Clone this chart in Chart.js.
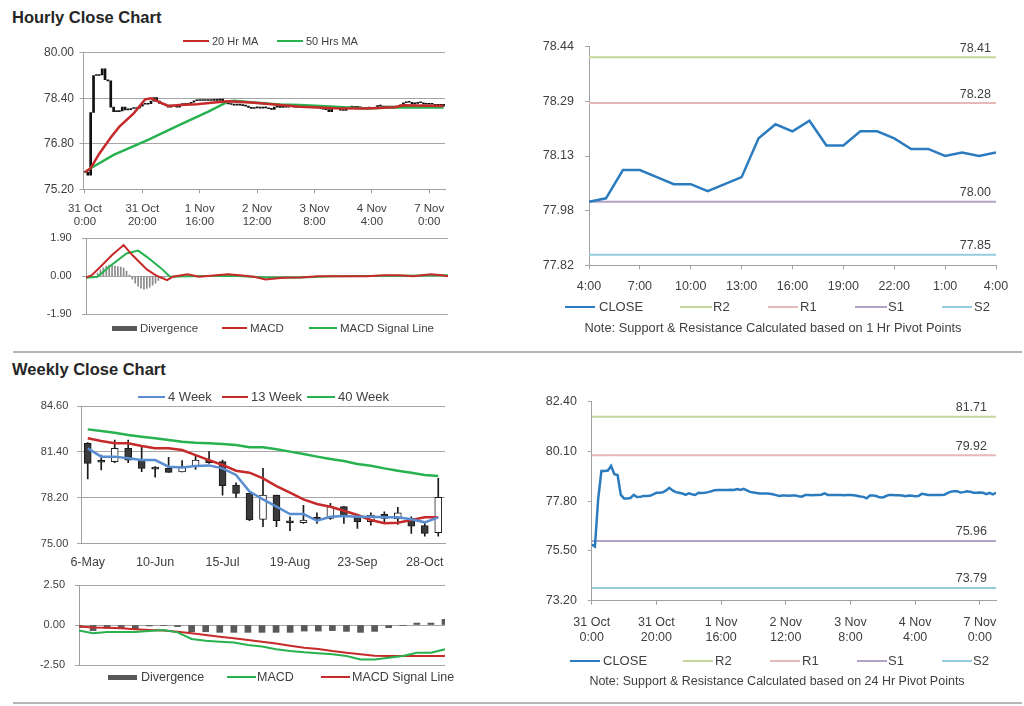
<!DOCTYPE html>
<html>
<head>
<meta charset="utf-8">
<title>Hourly / Weekly Close Charts</title>
<script src="https://cdn.jsdelivr.net/npm/chart.js@4.4.0/dist/chart.umd.min.js"></script>
<style>
  body { margin: 0; background: #fff; font-family: "Liberation Sans", Arial, sans-serif; color: #404040; }
  #page { position: relative; width: 1024px; height: 706px; overflow: hidden; }
  .title { position: absolute; left: 12px; font-weight: bold; font-size: 16.5px; line-height: 18px; color: #262626; }
  .rule { position: absolute; left: 13px; width: 1009px; height: 2px; background: #b5b5b5; }
  .leg { position: absolute; white-space: nowrap; line-height: 14px; color: #404040; }
  .legline { position: absolute; }
  .note { position: absolute; white-space: nowrap; line-height: 14px; color: #404040; transform: translateX(-50%); }
</style>
</head>
<body>
<div id="page">
  <div class="title" style="top:8px">Hourly Close Chart</div>
  <div class="rule" style="top:351px"></div>
  <div class="title" style="top:360px">Weekly Close Chart</div>
  <div class="rule" style="top:702px"></div>
</div>
<script>
// ---------- hourly data: one close per trading hour, 31 Oct 0:00 onwards ----------
const hourClose = [
  75.80, 75.70, 77.90, 79.20, 79.20, 79.22, 79.43, 79.05, 79.01, 78.09,
  77.93, 77.93, 77.95, 78.09, 77.99, 78.00, 78.04, 78.04, 78.05, 78.12,
  78.19, 78.19, 78.21, 78.30, 78.42, 78.30, 78.22, 78.19, 78.16, 78.09,
  78.16, 78.12, 78.09, 78.19, 78.18, 78.19, 78.22, 78.26, 78.31, 78.32,
  78.32, 78.32, 78.32, 78.33, 78.32, 78.36, 78.32, 78.37, 78.30, 78.23,
  78.20, 78.18, 78.16, 78.16, 78.16, 78.14, 78.12, 78.08, 78.04, 78.06,
  78.06, 78.05, 78.06, 78.06, 78.03, 78.01, 78.09, 78.09, 78.08, 78.09,
  78.09, 78.10, 78.16, 78.09, 78.09, 78.09, 78.09, 78.09, 78.08, 78.09,
  78.09, 78.07, 78.05, 78.02, 78.00, 77.93, 78.06, 78.06, 78.04, 77.98,
  77.97, 78.04, 78.09, 78.09, 78.08, 78.08, 78.06, 78.03, 78.06, 78.05,
  78.03, 78.04, 78.14, 78.12, 78.09, 78.09, 78.09, 78.09, 78.09, 78.10,
  78.17, 78.24, 78.26, 78.26, 78.20, 78.22, 78.26, 78.24, 78.19, 78.19,
  78.20, 78.19, 78.13, 78.19, 78.12, 78.19
];
const hourTickLabels = [
  ['31 Oct', '0:00'], ['31 Oct', '20:00'], ['1 Nov', '16:00'], ['2 Nov', '12:00'],
  ['3 Nov', '8:00'], ['4 Nov', '4:00'], ['7 Nov', '0:00']
];
const hourTickStep = 20;

// moving averages (vertices, x = hour index)
const ma20Hours  = [0, 2, 5, 9, 12, 17, 21, 23, 25, 29, 33, 39, 45, 50, 53, 59, 68, 75, 87, 98, 108, 111, 125];
const ma20Values = [75.80, 75.94, 76.45, 77.02, 77.40, 77.87, 78.36, 78.40, 78.31, 78.13, 78.16, 78.19,
                    78.25, 78.29, 78.28, 78.24, 78.16, 78.10, 78.05, 78.04, 78.08, 78.15, 78.13];
const ma50Hours  = [0, 2, 10, 22, 33, 43, 50, 52, 60, 68, 75, 87, 98, 108, 125];
const ma50Values = [75.80, 75.94, 76.41, 76.94, 77.46, 77.93, 78.29, 78.31, 78.24, 78.18, 78.16, 78.10,
                    78.04, 78.08, 78.07];
const hourTicks = [75.20, 76.80, 78.40, 80.00];

// hourly MACD
const macdHours    = [0, 2, 5, 9, 13, 16, 21, 24, 28, 30, 35, 39, 49, 53, 58, 62, 68, 74, 80, 97, 103, 108, 113, 119, 123, 125];
const macdValues   = [-0.07, 0.05, 0.47, 1.06, 1.56, 1.06, 0.34, 0.05, -0.20, -0.03, 0.10, -0.03, 0.10,
                      0.05, -0.03, -0.17, -0.08, -0.07, 0.00, 0.00, 0.05, 0.05, 0.00, 0.10, 0.05, 0.00];
const signalHours  = [0, 4, 8, 14, 18, 21, 26, 29, 35, 51, 62, 74, 85, 108, 125];
const signalValues = [-0.08, -0.03, 0.47, 1.14, 1.28, 0.97, 0.39, -0.03, 0.00, 0.02, -0.07, -0.07, 0.00, 0.02, 0.05];
const divHours  = [4, 5, 6, 7, 8, 9, 10, 11, 12, 13, 14, 15, 16, 17, 18, 19, 20, 21, 22, 23, 24, 25, 26, 27];
const divValues = [0.15, 0.30, 0.42, 0.50, 0.55, 0.55, 0.50, 0.48, 0.45, 0.40, 0.25, 0.05,
                   -0.15, -0.35, -0.50, -0.60, -0.65, -0.62, -0.55, -0.45, -0.35, -0.22, -0.12, -0.05];
const hourMacdTicks = [-1.90, 0.00, 1.90];

// last 24 hours, 1 hr pivots
const dayHourLabels = ['4:00', '7:00', '10:00', '13:00', '16:00', '19:00', '22:00', '1:00', '4:00'];
const dayHourStep = 3;
const dayClose = [78.00, 78.01, 78.09, 78.09, 78.07, 78.05, 78.05, 78.03, 78.05, 78.07, 78.18, 78.22, 78.20,
                  78.23, 78.16, 78.16, 78.20, 78.20, 78.18, 78.15, 78.15, 78.13, 78.14, 78.13, 78.14];
const dayTicks = [77.82, 77.98, 78.13, 78.29, 78.44];
const pivotNames = ['R2', 'R1', 'S1', 'S2'];
const hourPivotLevels = [78.41, 78.28, 78.00, 77.85];
const dayPivotLevels = [81.71, 79.92, 75.96, 73.79];
const pivot24Ticks = [73.20, 75.50, 77.80, 80.10, 82.40];

// ---------- weekly data ----------
const weekLabels = ['6-May', '13-May', '20-May', '27-May', '3-Jun', '10-Jun', '17-Jun', '24-Jun', '1-Jul',
  '8-Jul', '15-Jul', '22-Jul', '29-Jul', '5-Aug', '12-Aug', '19-Aug', '26-Aug', '2-Sep', '9-Sep', '16-Sep',
  '23-Sep', '30-Sep', '7-Oct', '14-Oct', '21-Oct', '28-Oct', '4-Nov'];
const wkOpen  = [82.00, 80.75, 80.72, 81.65, 80.83, 80.26, 80.25, 80.00, 80.37, 80.83, 80.72, 79.09, 78.51, 76.70,
                 78.39, 76.60, 76.46, 76.84, 76.77, 77.58, 76.84, 76.53, 77.05, 76.72, 76.77, 76.26, 75.77];
const wkHigh  = [82.05, 81.18, 82.23, 82.23, 81.72, 80.37, 81.02, 80.79, 81.18, 81.42, 80.83, 79.25, 78.51, 80.25,
                 78.39, 76.88, 77.67, 77.16, 77.81, 77.58, 76.88, 77.16, 77.23, 77.53, 76.88, 76.42, 79.56];
const wkLow   = [79.51, 80.14, 80.65, 80.65, 80.02, 79.63, 79.97, 80.00, 80.18, 80.60, 78.39, 78.23, 76.60, 76.19,
                 76.19, 75.91, 76.42, 76.42, 76.70, 76.42, 76.07, 76.30, 76.46, 76.35, 75.72, 75.53, 75.53];
const wkClose = [80.60, 80.68, 81.65, 80.83, 80.25, 80.20, 79.97, 80.37, 80.83, 80.65, 79.04, 78.51, 76.65, 78.39,
                 76.60, 76.46, 76.65, 76.70, 77.58, 76.88, 76.53, 77.00, 76.77, 77.16, 76.23, 75.72, 78.23];
const ma4w  = [81.65, 81.07, 81.07, 80.95, 80.83, 80.83, 80.37, 80.32, 80.41, 80.46, 80.25, 79.79, 78.63, 78.09,
               77.58, 77.07, 77.07, 76.60, 76.88, 76.93, 76.88, 76.88, 76.84, 76.84, 76.70, 76.49, 76.84];
const ma13w = [82.35, 82.16, 82.00, 82.00, 81.81, 81.65, 81.65, 81.53, 81.18, 80.83, 80.49, 80.09, 79.95, 79.56,
               79.02, 78.56, 78.09, 77.77, 77.58, 77.30, 77.00, 76.65, 76.42, 76.46, 76.65, 76.84, 76.84];
const ma40w = [82.97, 82.86, 82.74, 82.58, 82.46, 82.35, 82.23, 82.11, 82.04, 82.00, 81.95, 81.88, 81.72, 81.72,
               81.58, 81.42, 81.25, 81.07, 80.90, 80.76, 80.56, 80.44, 80.25, 80.09, 79.95, 79.79, 79.72];
const weekTicks = [75.00, 78.20, 81.40, 84.60];
const weekLabelStep = 5;

const wkDiv    = [-0.15, -0.35, -0.20, -0.20, -0.27, -0.06, -0.04, -0.10, -0.42, -0.42, -0.46, -0.46, -0.46, -0.46,
                  -0.46, -0.46, -0.38, -0.38, -0.35, -0.40, -0.46, -0.40, -0.17, -0.02, 0.12, 0.12, 0.35];
const wkMacd   = [-0.35, -0.52, -0.44, -0.44, -0.44, -0.38, -0.31, -0.46, -0.87, -0.98, -1.04, -1.10, -1.25, -1.35,
                  -1.52, -1.63, -1.71, -1.77, -1.83, -1.94, -2.15, -2.15, -2.04, -1.94, -1.73, -1.73, -1.52];
const wkSignal = [-0.10, -0.15, -0.17, -0.21, -0.27, -0.31, -0.35, -0.42, -0.52, -0.62, -0.73, -0.83, -0.94, -1.04,
                  -1.15, -1.29, -1.42, -1.50, -1.63, -1.73, -1.83, -1.92, -1.94, -1.94, -1.94, -1.94, -1.94];
const weekMacdTicks = [-2.50, 0.00, 2.50];

// ---------- styling ----------
const RED = '#c62a2a', GREEN = '#27b24f', BLUE = '#2b7bbf', LIGHTBLUE = '#5a8dd0';
const DIVGRAY = '#595959', TEXT = '#404040', GRID = '#a6a6a6', AXIS = '#a0a0a0';
const pivotColors = ['#c3d69b', '#e6b9b8', '#b3a2c7', '#93cddd'];

Chart.defaults.font.family = '"Liberation Sans", Arial, sans-serif';
Chart.defaults.font.size = 11;
Chart.defaults.color = TEXT;
Chart.defaults.animation = false;
Chart.defaults.plugins.legend.display = false;
Chart.defaults.plugins.tooltip.enabled = false;

const page = document.getElementById('page');

function makeCanvas(left, top, w, h) {
  const c = document.createElement('canvas');
  c.width = w; c.height = h;
  c.style.cssText = 'position:absolute;left:' + left + 'px;top:' + top + 'px;';
  page.appendChild(c);
  return c.getContext('2d');
}

// evenly spaced ticks from first to last entry, labelled from the list
function yAxis(ticks, width, pad, size, grid) {
  const n = ticks.length;
  return {
    min: ticks[0], max: ticks[n - 1],
    afterBuildTicks: s => { s.ticks = ticks.map((t, i) => ({ value: ticks[0] + (ticks[n - 1] - ticks[0]) * i / (n - 1) })); },
    afterFit: s => { s.width = width; },
    ticks: { callback: (v, i) => ticks[i].toFixed(2), padding: pad, font: { size: size } },
    grid: { color: GRID, drawOnChartArea: grid, tickLength: 4 },
    border: { color: AXIS }
  };
}

function xLinear(max, labels, step, height, pad, size, lh) {
  return {
    type: 'linear', min: 0, max: max, offset: false,
    afterBuildTicks: s => { s.ticks = labels.map((l, i) => ({ value: i * step })); },
    afterFit: s => { s.height = height; },
    ticks: { callback: (v, i) => labels[i], padding: pad, maxRotation: 0, autoSkip: false,
             font: { size: size, lineHeight: lh } },
    grid: { drawOnChartArea: false, tickLength: 4, color: AXIS, offset: false },
    border: { color: AXIS }
  };
}

function toPoints(xs, ys) { return xs.map((x, i) => ({ x: x, y: ys[i] })); }

function line(label, data, color, width) {
  return { type: 'line', label: label, data: data, borderColor: color, backgroundColor: color,
           borderWidth: width, pointRadius: 0, tension: 0, order: 0 };
}

function addLegend(cy, size, items) {
  items.forEach(it => {
    const ln = document.createElement('div');
    ln.className = 'legline';
    ln.style.cssText = 'left:' + it.x + 'px;top:' + (cy - it.h / 2) + 'px;width:' + it.w + 'px;height:' + it.h + 'px;background:' + it.color;
    page.appendChild(ln);
    const t = document.createElement('div');
    t.className = 'leg';
    t.style.cssText = 'left:' + it.tx + 'px;top:' + (cy - 7) + 'px;font-size:' + size + 'px';
    t.textContent = it.label;
    page.appendChild(t);
  });
}

function addNote(cx, cy, size, text) {
  const n = document.createElement('div');
  n.className = 'note';
  n.style.cssText = 'left:' + cx + 'px;top:' + (cy - 7) + 'px;font-size:' + size + 'px';
  n.textContent = text;
  page.appendChild(n);
}

// value written above the right end of each pivot line
const pivotLabels = {
  id: 'pivotLabels',
  afterDatasetsDraw(chart, args, opts) {
    const ctx = chart.ctx;
    ctx.save();
    ctx.font = '12.5px "Liberation Sans", Arial, sans-serif';
    ctx.fillStyle = TEXT;
    ctx.textAlign = 'right';
    ctx.textBaseline = 'middle';
    chart.data.datasets.forEach((ds, i) => {
      if (ds.pivot === undefined) return;
      const pts = chart.getDatasetMeta(i).data;
      const p = pts[pts.length - 1];
      ctx.fillText(ds.pivot.toFixed(2), p.x - opts.dx, p.y - 9);
    });
    ctx.restore();
  }
};

function pivotSets(levels, xMax) {
  return pivotNames.map((name, i) => ({
    type: 'line', label: name, pivot: levels[i],
    data: [{ x: 0, y: levels[i] }, { x: xMax, y: levels[i] }],
    borderColor: pivotColors[i], borderWidth: 2, pointRadius: 0, order: 1
  }));
}

// ---------- A: hourly candles + MAs ----------
new Chart(makeCanvas(0, 40, 460, 195), {
  type: 'bar',
  data: {
    datasets: [
      line('20 Hr MA', toPoints(ma20Hours, ma20Values), RED, 2.5),
      line('50 Hrs MA', toPoints(ma50Hours, ma50Values), GREEN, 2.5),
      { label: 'Hourly', order: 1,
        data: hourClose.map((c, i) => ({ x: i, y: [i ? hourClose[i - 1] : c, c] })),
        backgroundColor: '#111', borderWidth: 0, barThickness: 2, minBarLength: 1 }
    ]
  },
  options: {
    responsive: false,
    layout: { padding: { top: 12.7, right: 15, bottom: 3.7, left: 0 } },
    scales: {
      x: Object.assign(xLinear(125.5, hourTickLabels, hourTickStep, 42, 9.4, 11.5, 1.1), { min: -0.5 }),
      y: yAxis(hourTicks, 83.5, 5.5, 12, true)
    }
  }
});
addLegend(41, 11, [
  { x: 183, w: 26, h: 2, color: RED, tx: 212, label: '20 Hr MA' },
  { x: 277, w: 26, h: 2, color: GREEN, tx: 306, label: '50 Hrs MA' }
]);

// ---------- B: hourly MACD ----------
new Chart(makeCanvas(0, 220, 460, 112), {
  type: 'bar',
  data: {
    datasets: [
      line('MACD', toPoints(macdHours, macdValues), RED, 2),
      line('MACD Signal Line', toPoints(signalHours, signalValues), GREEN, 2),
      { label: 'Divergence', order: 1, data: toPoints(divHours, divValues),
        backgroundColor: '#8a8a8a', barThickness: 1 }
    ]
  },
  options: {
    responsive: false,
    layout: { padding: { top: 18.3, right: 12, bottom: 18, left: 0 } },
    scales: {
      x: { type: 'linear', min: 0, max: 125, display: false, offset: false },
      y: yAxis(hourMacdTicks, 86, 10.3, 11, true)
    }
  }
});
addLegend(328, 11.5, [
  { x: 112, w: 25, h: 5, color: DIVGRAY, tx: 140, label: 'Divergence' },
  { x: 222, w: 25, h: 2, color: RED, tx: 250, label: 'MACD' },
  { x: 309, w: 28, h: 2, color: GREEN, tx: 340, label: 'MACD Signal Line' }
]);

// ---------- C: last 24 hours with 1 hr pivots ----------
new Chart(makeCanvas(520, 28, 504, 272), {
  type: 'line',
  data: {
    datasets: [line('CLOSE', dayClose.map((v, i) => ({ x: i, y: v })), BLUE, 2.5)]
      .concat(pivotSets(hourPivotLevels, dayClose.length - 1))
  },
  options: {
    responsive: false,
    layout: { padding: { top: 18.7, right: 28, bottom: 2.7, left: 0 } },
    plugins: { pivotLabels: { dx: 5 } },
    scales: {
      x: xLinear(dayClose.length - 1, dayHourLabels, dayHourStep, 32, 10.2, 12.5, 1.2),
      y: yAxis(dayTicks, 69, 11, 12.5, false)
    }
  },
  plugins: [pivotLabels]
});
addLegend(307, 13, [
  { x: 565, w: 30, h: 2.5, color: BLUE, tx: 599, label: 'CLOSE' },
  { x: 680, w: 32, h: 1.5, color: pivotColors[0], tx: 713, label: 'R2' },
  { x: 768, w: 30, h: 1.5, color: pivotColors[1], tx: 800, label: 'R1' },
  { x: 855, w: 32, h: 1.5, color: pivotColors[2], tx: 888, label: 'S1' },
  { x: 942, w: 30, h: 1.5, color: pivotColors[3], tx: 974, label: 'S2' }
]);
addNote(773, 328, 12.8, 'Note: Support & Resistance Calculated based on 1 Hr Pivot Points');

// ---------- D: weekly candles + MAs ----------
new Chart(makeCanvas(0, 385, 460, 192), {
  type: 'bar',
  data: {
    labels: weekLabels,
    datasets: [
      line('4 Week', ma4w, LIGHTBLUE, 2.5),
      line('13 Week', ma13w, RED, 2.5),
      line('40 Week', ma40w, GREEN, 2.5),
      { label: 'Body', order: 1, grouped: false, barThickness: 7, borderSkipped: false,
        data: wkOpen.map((o, i) => [o, wkClose[i]]),
        backgroundColor: wkOpen.map((o, i) => wkClose[i] >= o ? '#ffffff' : '#3a3a3a'),
        borderColor: '#1a1a1a', borderWidth: 1, minBarLength: 2 },
      { label: 'Range', order: 2, grouped: false, barThickness: 1,
        data: wkLow.map((l, i) => [l, wkHigh[i]]),
        backgroundColor: '#1a1a1a' }
    ]
  },
  options: {
    responsive: false,
    layout: { padding: { top: 21, right: 15, bottom: 3.3, left: 0 } },
    scales: {
      x: {
        afterFit: s => { s.height = 30; },
        ticks: { autoSkip: false, maxRotation: 0, padding: 11, font: { size: 12.5 },
                 callback: (v, i) => i % weekLabelStep === 0 ? weekLabels[i] : '' },
        grid: { drawOnChartArea: false, drawTicks: false },
        border: { color: AXIS }
      },
      y: yAxis(weekTicks, 81, 8.7, 11, true)
    }
  }
});
addLegend(397, 13, [
  { x: 138, w: 27, h: 2, color: LIGHTBLUE, tx: 168, label: '4 Week' },
  { x: 222, w: 26, h: 2, color: RED, tx: 251, label: '13 Week' },
  { x: 307, w: 28, h: 2, color: GREEN, tx: 338, label: '40 Week' }
]);

// ---------- E: weekly MACD ----------
new Chart(makeCanvas(0, 567, 460, 116), {
  type: 'bar',
  data: {
    labels: weekLabels,
    datasets: [
      line('MACD', wkMacd, GREEN, 2),
      line('MACD Signal Line', wkSignal, RED, 2),
      { label: 'Divergence', order: 1, data: wkDiv, backgroundColor: DIVGRAY, barThickness: 6 }
    ]
  },
  options: {
    responsive: false,
    layout: { padding: { top: 18, right: 15, bottom: 18, left: 0 } },
    scales: {
      x: { display: false, offset: false, grid: { offset: false } },
      y: yAxis(weekMacdTicks, 79, 10, 11, true)
    }
  }
});
addLegend(677, 12.5, [
  { x: 108, w: 29, h: 5, color: DIVGRAY, tx: 141, label: 'Divergence' },
  { x: 227, w: 29, h: 2, color: GREEN, tx: 257, label: 'MACD' },
  { x: 321, w: 29, h: 2, color: RED, tx: 352, label: 'MACD Signal Line' }
]);

// ---------- F: hourly close with 24 hr pivots ----------
new Chart(makeCanvas(520, 383, 504, 272), {
  type: 'line',
  data: {
    datasets: [line('CLOSE', hourClose.map((v, i) => ({ x: i, y: v })), BLUE, 2.5)]
      .concat(pivotSets(dayPivotLevels, hourClose.length - 1))
  },
  options: {
    responsive: false,
    layout: { padding: { top: 18.7, right: 28, bottom: 9.3, left: 0 } },
    plugins: { pivotLabels: { dx: 9 } },
    scales: {
      x: xLinear(hourClose.length - 1, hourTickLabels, hourTickStep, 45, 10.6, 12.5, 1.18),
      y: yAxis(pivot24Ticks, 71.7, 10.7, 12.5, false)
    }
  },
  plugins: [pivotLabels]
});
addLegend(661, 13, [
  { x: 570, w: 30, h: 2.5, color: BLUE, tx: 603, label: 'CLOSE' },
  { x: 683, w: 30, h: 1.5, color: pivotColors[0], tx: 715, label: 'R2' },
  { x: 770, w: 30, h: 1.5, color: pivotColors[1], tx: 802, label: 'R1' },
  { x: 857, w: 30, h: 1.5, color: pivotColors[2], tx: 888, label: 'S1' },
  { x: 942, w: 30, h: 1.5, color: pivotColors[3], tx: 973, label: 'S2' }
]);
addNote(777, 681, 12.5, 'Note: Support & Resistance Calculated based on 24 Hr Pivot Points');
</script>
</body>
</html>
